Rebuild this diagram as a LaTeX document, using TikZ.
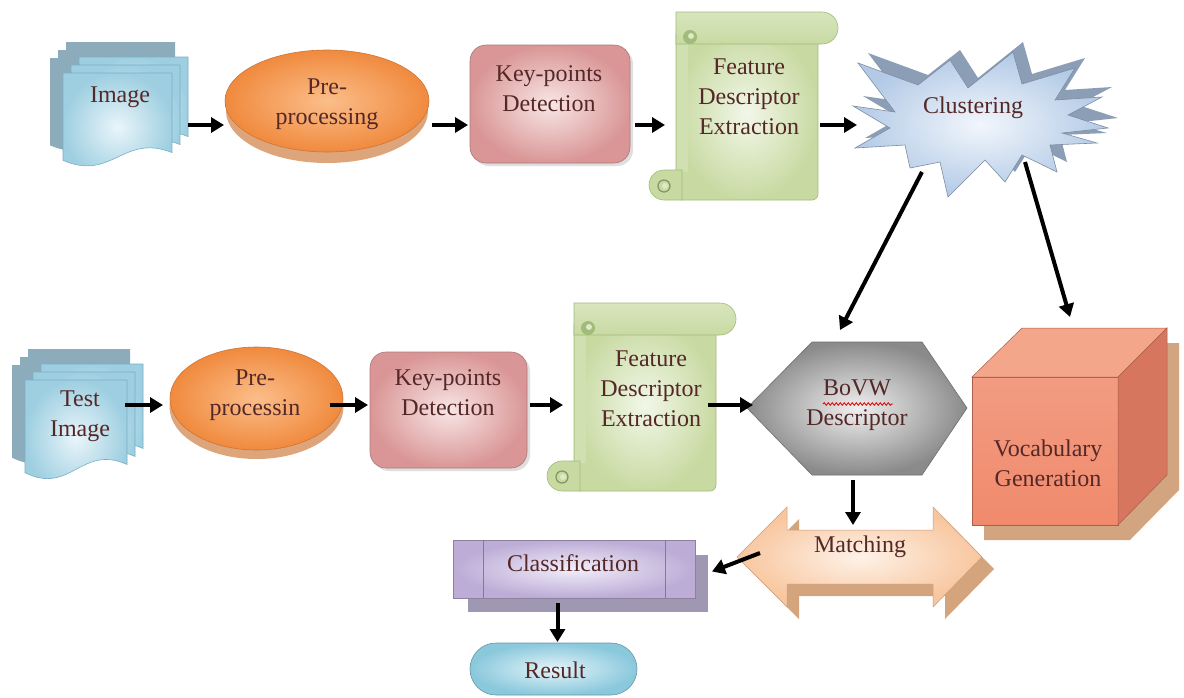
\documentclass[tikz,border=0pt]{standalone}
\usepackage{fontspec}
\setmainfont{Liberation Serif}
\usetikzlibrary{arrows.meta,decorations.pathmorphing}

\definecolor{txt}{RGB}{85,40,40}
\definecolor{docA}{RGB}{234,245,250}
\definecolor{docB}{RGB}{158,207,225}
\definecolor{docE}{RGB}{120,175,200}
\definecolor{docSh}{RGB}{140,172,188}
\definecolor{ovA}{RGB}{251,190,138}
\definecolor{ovB}{RGB}{240,138,62}
\definecolor{ovSh}{RGB}{222,165,122}
\definecolor{keyA}{RGB}{248,230,230}
\definecolor{keyB}{RGB}{218,150,150}
\definecolor{scrA}{RGB}{242,247,232}
\definecolor{scrB}{RGB}{200,218,162}
\definecolor{scrD}{RGB}{160,188,120}
\definecolor{stA}{RGB}{242,246,252}
\definecolor{stB}{RGB}{178,202,230}
\definecolor{stSh}{RGB}{140,158,182}
\definecolor{hexA}{RGB}{240,240,240}
\definecolor{hexB}{RGB}{138,138,138}
\definecolor{cubeF}{RGB}{240,138,108}
\definecolor{cubeT}{RGB}{244,166,138}
\definecolor{cubeR}{RGB}{214,118,94}
\definecolor{cubeSh}{RGB}{210,165,128}
\definecolor{matA}{RGB}{254,242,232}
\definecolor{matB}{RGB}{248,198,158}
\definecolor{matSh}{RGB}{212,164,124}
\definecolor{clsA}{RGB}{242,238,250}
\definecolor{clsB}{RGB}{188,172,214}
\definecolor{clsSh}{RGB}{160,152,178}
\definecolor{resA}{RGB}{228,244,249}
\definecolor{resB}{RGB}{138,200,220}

% one page of a document symbol: x, y, width, height, path options
\newcommand{\docpage}[5]{\path[#5] ({#1},{#2}) -- ({#1+#3},{#2}) -- ({#1+#3},{#2+0.82*#4})
  .. controls ({#1+0.55*#3},{#2+0.62*#4}) and ({#1+0.45*#3},{#2+1.12*#4}) .. ({#1},{#2+0.9*#4}) -- cycle;}

% stacked pages with their shadow: x, y, width, height of the front page
\newcommand{\multidoc}[4]{%
  \foreach \d in {0,8,16} {\docpage{#1+\d-13}{#2-\d-15}{#3}{#4}{fill=docSh}}
  \foreach \d in {16,8,0} {\docpage{#1+\d}{#2-\d}{#3}{#4}{draw=docE, line width=0.6pt, shading=radial, inner color=docA, outer color=docB}}}

% parchment scroll in local coordinates (body 142 x 188)
\newcommand{\scrollshape}{%
  \path[draw=scrD, line width=0.6pt, shading=radial, inner color=scrA, outer color=scrB, rounded corners=6pt]
    (0,16) -- (142,16) -- (142,188) -- (0,188) -- cycle;
  \fill[scrB!85!white] (1,32) rectangle (12,160);
  \path[draw=scrD, line width=0.6pt, top color=scrB!70!white, bottom color=scrB]
    (0,0) -- (146,0) arc[start angle=90, end angle=-90, radius=16pt] -- (0,32) -- cycle;
  \fill[scrD] (14,25) circle (7);
  \fill[scrB!60!white] (15,24) circle (3);
  \path[draw=scrD, line width=0.6pt, fill=scrB]
    (6,188) -- (-12,188) arc[start angle=-90, end angle=-270, radius=15pt] -- (6,158) -- cycle;
  \draw[scrD!80!black, line width=1.2pt] (-12,174) circle (6);
  \fill[scrB!60!white] (-11,174) circle (3);}

% explosion outline
\newcommand{\starpath}{(853,106) -- (895,112) -- (858,63) -- (918,85) -- (950,60) -- (968,88) -- (1013,52)
  -- (1022,84) -- (1075,68) -- (1055,100) -- (1102,97) -- (1068,115) -- (1108,128) -- (1062,133)
  -- (1097,143) -- (1050,145) -- (1057,172) -- (1022,155) -- (1005,182) -- (985,160) -- (948,197)
  -- (940,162) -- (910,168) -- (905,145) -- (855,148) -- (890,128) -- cycle}

\begin{document}
\begin{tikzpicture}[x=1pt,y=-1pt,
  lbl/.style={text=txt, font=\fontsize{24}{30}\selectfont, align=center, inner sep=0pt},
  bbox/.style={inner sep=0pt, outer sep=0pt, draw=none},
  arr/.style={line width=4pt, -{Triangle[length=13pt,width=15pt]}}]

\fill[white] (0,0) rectangle (1184,697);
\useasboundingbox (0,0) rectangle (1184,697);

% ---------- training row ----------
\multidoc{63}{73}{109}{97}

\fill[ovSh] (327,111) ellipse [x radius=101, y radius=52];
\path[draw=ovB!85!black, line width=0.6pt, shading=radial, inner color=ovA, outer color=ovB]
  (327,101) ellipse [x radius=102, y radius=51];

\fill[gray!25] (473,48) [rounded corners=16pt] rectangle (633,166);
\path[draw=keyB!80!black, line width=0.6pt, rounded corners=16pt, shading=radial, inner color=keyA, outer color=keyB]
  (470,45) rectangle (630,163);

\begin{scope}[shift={(676,12)}]
  \scrollshape
\end{scope}

\begin{scope}[shift={(10,-10)}]
  \fill[stSh] \starpath;
\end{scope}
\path[draw=stB!70!black, line width=0.6pt, shading=radial, inner color=stA, outer color=stB] \starpath;

% ---------- test row ----------
\multidoc{25}{380}{102}{103}

\fill[ovSh] (256.5,407) ellipse [x radius=87, y radius=52];
\path[draw=ovB!85!black, line width=0.6pt, shading=radial, inner color=ovA, outer color=ovB]
  (256.5,398.5) ellipse [x radius=86.5, y radius=51.5];

\fill[gray!25] (373,355) [rounded corners=16pt] rectangle (530,471);
\path[draw=keyB!80!black, line width=0.6pt, rounded corners=16pt, shading=radial, inner color=keyA, outer color=keyB]
  (370,352) rectangle (527,468);

\begin{scope}[shift={(574,303)}]
  \scrollshape
\end{scope}

% hexagon
\path[draw=hexB!80!black, line width=0.6pt, shading=radial, inner color=hexA, outer color=hexB]
  (747,408) -- (812,342) -- (922,342) -- (967,408) -- (922,475) -- (812,475) -- cycle;

% cube with its shadow
\fill[cubeSh] (984,392) -- (1034,343) -- (1179,343) -- (1179,490) -- (1130,540) -- (984,540) -- cycle;
\path[draw=cubeR!80!black, line width=0.5pt, top color=cubeF!85!white, bottom color=cubeF]
  (972,377) rectangle (1118,525);
\path[draw=cubeR!80!black, line width=0.5pt, fill=cubeT]
  (972,377) -- (1022,328) -- (1167,328) -- (1118,377) -- cycle;
\path[draw=cubeR!80!black, line width=0.5pt, fill=cubeR]
  (1118,377) -- (1167,328) -- (1167,475) -- (1118,525) -- cycle;

% double arrow with its shadow
\begin{scope}[shift={(12,12)}]
  \fill[matSh] (737,557) -- (787,507) -- (787,530) -- (933,530) -- (933,507) -- (982,557)
    -- (933,607) -- (933,584) -- (787,584) -- (787,607) -- cycle;
\end{scope}
\path[draw=matB!80!black, line width=0.5pt, shading=radial, inner color=matA, outer color=matB]
  (737,557) -- (787,507) -- (787,530) -- (933,530) -- (933,507) -- (982,557)
  -- (933,607) -- (933,584) -- (787,584) -- (787,607) -- cycle;

% predefined-process box
\fill[clsSh] (468,555) rectangle (708,612);
\path[draw=clsB!75!black, line width=0.6pt, shading=radial, inner color=clsA, outer color=clsB]
  (453,540) rectangle (695,598);
\draw[clsB!70!black, line width=0.6pt] (483,540) -- (483,598) (665,540) -- (665,598);

% terminator
\path[draw=resB!75!black, line width=0.6pt, rounded corners=26pt, shading=radial, inner color=resA, outer color=resB]
  (470,643) rectangle (637,695);

% ---------- labels ----------
\node[lbl] (img-t)   at (120,97)   {Image};
\node[lbl] (pre1-t)  at (327,104)  {Pre-\\processing};
\node[lbl] (key1-t)  at (549,89)   {Key-points\\Detection};
\node[lbl] (feat1-t) at (749,97)   {Feature\\Descriptor\\Extraction};
\node[lbl] (clust-t) at (973,108)  {Clustering};
\node[lbl] (test-t)  at (80,416)   {Test\\Image};
\node[lbl] (pre2-t)  at (255,395)  {Pre-\\processin};
\node[lbl] (key2-t)  at (448,393)  {Key-points\\Detection};
\node[lbl] (feat2-t) at (651,389)  {Feature\\Descriptor\\Extraction};
\node[lbl] (bovw-t)  at (857,405)  {BoVW\\Descriptor};
\node[lbl] (vocab-t) at (1048,463) {Vocabulary\\Generation};
\node[lbl] (match-t) at (860,547)  {Matching};
\node[lbl] (class-t) at (573,563)  {Classification};
\node[lbl] (res-t)   at (555,670)  {Result};
\draw[red!85!black, line width=0.8pt, decorate, decoration={snake, amplitude=1.3pt, segment length=4pt}]
  (823,404) -- (893,404);

% ---------- shape extents used by the connectors ----------
\node[bbox, minimum width=138pt, minimum height=128pt] (img)   at (119,125)    {};
\node[bbox, minimum width=208pt, minimum height=116pt] (pre1)  at (328,125)    {};
\node[bbox, minimum width=167pt, minimum height=118pt] (key1)  at (551.5,125)  {};
\node[bbox, minimum width=155pt, minimum height=188pt] (feat1) at (742.5,125)  {};
\node[bbox, minimum width=251pt, minimum height=150pt] (clust) at (982.5,125)  {};
\node[bbox, minimum width=113pt, minimum height=140pt] (test)  at (68.5,405)   {};
\node[bbox, minimum width=167pt, minimum height=113pt] (pre2)  at (246.5,405)  {};
\node[bbox, minimum width=162pt, minimum height=116pt] (key2)  at (449,405)    {};
\node[bbox, minimum width=145pt, minimum height=188pt] (feat2) at (635.5,405)  {};
\node[bbox, minimum width=214pt, minimum height=150pt] (bovw)  at (860,405)    {};
\node[bbox, minimum width=210pt, minimum height=223pt] (vocab) at (1070,428.5) {};
\node[bbox, minimum width=245pt, minimum height=100pt] (match) at (859.5,557)  {};
\node[bbox, minimum width=259pt, minimum height=63pt]  (class) at (582.5,571.5){};
\node[bbox, minimum width=175pt, minimum height=55pt]  (result) at (557.5,669.5){};

% ---------- connectors ----------
\draw[arr] (img.east) -- (pre1.west);
\draw[arr] (pre1.east) -- (key1.west);
\draw[arr] (key1.east) -- (feat1.west);
\draw[arr] (feat1.east) -- (clust.west);
\draw[arr] ([xshift=-60.5pt,yshift=28pt]clust.south) -- ([xshift=-20pt]bovw.north);
\draw[arr] ([xshift=42.5pt,yshift=38pt]clust.south) -- (vocab.north);
\draw[arr] (test.east) -- (pre2.west);
\draw[arr] (pre2.east) -- (key2.west);
\draw[arr] (key2.east) -- (feat2.west);
\draw[arr] (feat2.east) -- (bovw.west);
\draw[arr] ([xshift=-7pt]bovw.south) -- ([xshift=-6.5pt,yshift=-18pt]match.north);
\draw[arr] ([xshift=23pt,yshift=4pt]match.west) -- (class.east);
\draw[arr] ([xshift=-25pt]class.south) -- (result.north);
\end{tikzpicture}
\end{document}
